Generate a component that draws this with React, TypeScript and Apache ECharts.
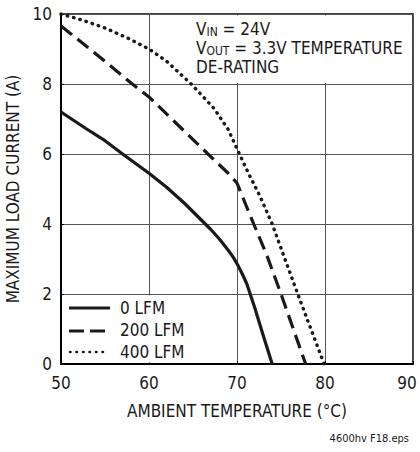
import React, { useEffect, useRef } from 'react';
import * as echarts from 'echarts';

const xTicks = [50, 60, 70, 80, 90];
const yTicks = [0, 2, 4, 6, 8, 10];

const temps0 = [50, 53, 55, 57, 60, 62, 64, 66, 67, 68, 69, 69.6, 70.1, 70.6, 71.1, 72, 73, 74];
const curr0 = [7.2, 6.7, 6.38, 6.0, 5.45, 5.05, 4.6, 4.1, 3.85, 3.57, 3.25, 3.04, 2.82, 2.57, 2.3, 1.62, 0.8, 0];

const temps200 = [50, 55, 58, 60, 63, 66.7, 69, 70, 71, 71.9, 73.4, 75, 77.8];
const curr200 = [9.66, 8.65, 8.02, 7.63, 6.9, 6.0, 5.45, 5.17, 4.55, 4.0, 3.1, 2.0, 0];

const temps400 = [50, 52.5, 55, 57.5, 60, 62, 64.8, 67.4, 69, 70, 71.3, 72.6, 74, 76.9, 79.9];
const curr400 = [10, 9.82, 9.6, 9.32, 9.0, 8.65, 8.0, 7.3, 6.7, 6.15, 5.45, 4.8, 4.0, 2.0, 0];

const legendNames = ['0 LFM', '200 LFM', '400 LFM'];

const FONT = "'DejaVu Sans Condensed', 'Liberation Sans Narrow', sans-serif";
const INK = '#1a1a1a';

const zip = (xs: number[], ys: number[]) => xs.map((x, i) => [x, ys[i]]);

export default function App() {
  const ref = useRef<HTMLDivElement>(null);
  useEffect(() => {
    document.body.style.margin = '0';
    if (!ref.current) return;
    const chart = echarts.init(ref.current, undefined, { renderer: 'svg' });
    const axisCommon = {
      type: 'value' as const,
      nameLocation: 'middle' as const,
      axisLine: { show: true, lineStyle: { color: '#000', width: 2 } },
      axisTick: { show: true, inside: true, length: 3, lineStyle: { color: '#000', width: 1 } },
      splitLine: { show: true, lineStyle: { color: '#555', width: 1 } },
      nameTextStyle: { color: INK, fontSize: 17, fontFamily: FONT },
    };
    const maxX = xTicks[xTicks.length - 1];
    chart.setOption({
      animation: false,
      backgroundColor: '#fff',
      grid: {
        left: 61, top: 14, width: 352, height: 350,
        show: true, borderColor: '#000', borderWidth: 1.5,
        containLabel: false, outerBoundsMode: 'none',
      },
      xAxis: {
        ...axisCommon,
        min: xTicks[0], max: maxX, interval: 10,
        name: 'AMBIENT TEMPERATURE (°C)', nameGap: 38,
        axisLabel: {
          color: INK, fontSize: 17, fontFamily: FONT, margin: 10,
          formatter: (v: number) => (v === maxX ? `{m|${v}}` : `${v}`),
          rich: { m: { color: INK, fontSize: 17, fontFamily: FONT, padding: [0, 12, 0, 0] } },
        },
      },
      yAxis: {
        ...axisCommon,
        min: yTicks[0], max: yTicks[yTicks.length - 1], interval: 2,
        name: 'MAXIMUM LOAD CURRENT (A)', nameGap: 29,
        axisLabel: { color: INK, fontSize: 17, fontFamily: FONT, margin: 9 },
      },
      series: [
        {
          name: legendNames[0], type: 'line', data: zip(temps0, curr0), showSymbol: false,
          smooth: false, z: 5,
          lineStyle: { color: INK, width: 3.2, join: 'round' },
        },
        {
          name: legendNames[1], type: 'line', data: zip(temps200, curr200), showSymbol: false,
          smooth: false, z: 5,
          lineStyle: { color: INK, width: 3.2, type: [14, 7] },
        },
        {
          name: legendNames[2], type: 'line', data: zip(temps400, curr400), showSymbol: false,
          smooth: false, z: 5,
          lineStyle: { color: INK, width: 3.4, type: [0.5, 6], cap: 'round' },
        },
      ],
      graphic: [
        { type: 'rect', z: 1, shape: { x: 63, y: 295.5, width: 135, height: 67 }, style: { fill: '#fff' } },
        { type: 'rect', z: 1, shape: { x: 160, y: 15.5, width: 251.5, height: 67.5 }, style: { fill: '#fff' } },
        { type: 'line', z: 6, shape: { x1: 69, y1: 308, x2: 110, y2: 308 }, style: { stroke: INK, lineWidth: 3 } },
        { type: 'line', z: 6, shape: { x1: 69, y1: 331, x2: 106, y2: 331 }, style: { stroke: INK, lineWidth: 3, lineDash: [15, 6] } },
        { type: 'line', z: 6, shape: { x1: 70, y1: 352, x2: 106, y2: 352 }, style: { stroke: INK, lineWidth: 2.6, lineDash: [0.5, 6], lineCap: 'round' } },
        { type: 'text', z: 6, x: 120, y: 308, style: { text: legendNames[0], fill: INK, fontSize: 17, fontFamily: FONT, verticalAlign: 'middle' } },
        { type: 'text', z: 6, x: 120, y: 330, style: { text: legendNames[1], fill: INK, fontSize: 17, fontFamily: FONT, verticalAlign: 'middle' } },
        { type: 'text', z: 6, x: 120, y: 352, style: { text: legendNames[2], fill: INK, fontSize: 17, fontFamily: FONT, verticalAlign: 'middle' } },
        {
          type: 'text', z: 6, x: 196, y: 19,
          style: {
            text: '{a|V}{b|IN}{a| = 24V}\n{a|V}{b|OUT}{a| = 3.3V TEMPERATURE}\n{a|DE-RATING}',
            fill: INK, fontFamily: FONT,
            rich: {
              a: { fontSize: 17, lineHeight: 19, fontFamily: FONT, fill: INK },
              b: { fontSize: 12, lineHeight: 12, verticalAlign: 'bottom', fontFamily: FONT, fill: INK },
            },
          },
        },
        { type: 'text', z: 6, x: 409, y: 438, style: { text: '4600hv F18.eps', fill: INK, fontSize: 11, fontFamily: FONT, align: 'right', verticalAlign: 'middle' } },
      ],
    });
    return () => chart.dispose();
  }, []);
  return <div ref={ref} style={{ width: 420, height: 452 }} />;
}
